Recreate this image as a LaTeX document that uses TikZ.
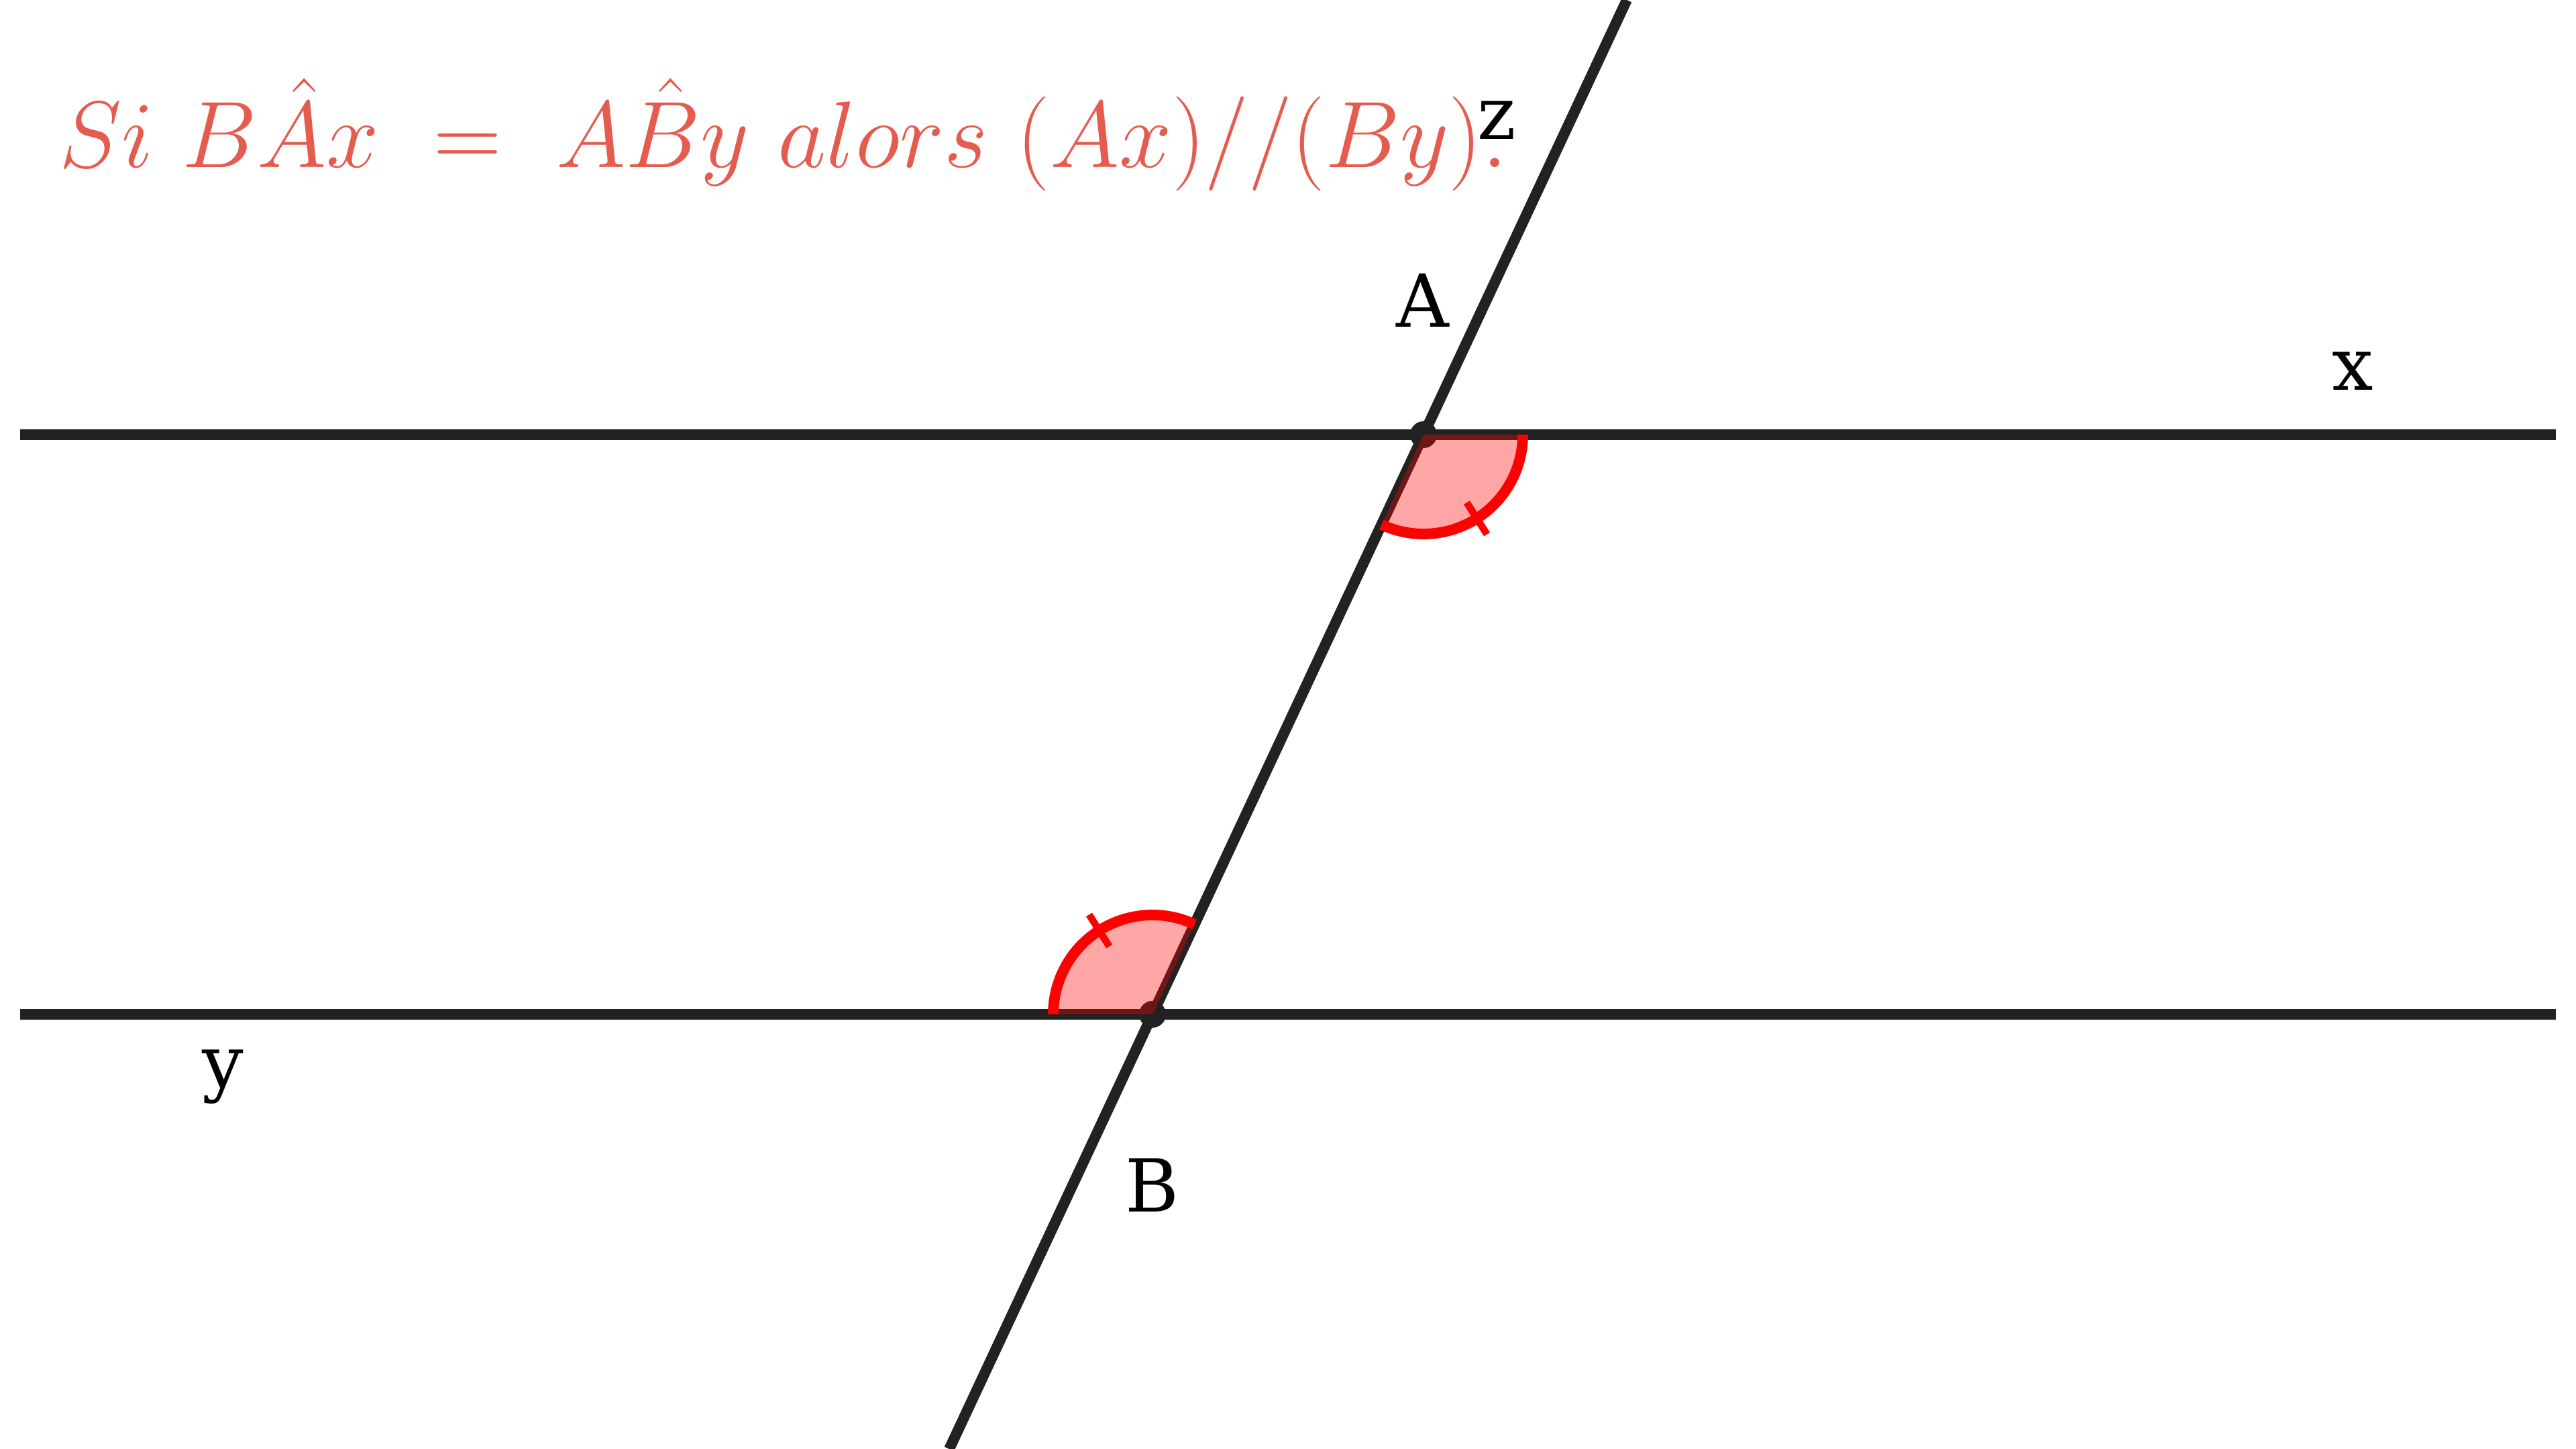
\documentclass[tikz,border=0pt]{standalone}
\usepackage{amsmath,amssymb}
\usepackage{fontspec}
\usetikzlibrary{calc}
\newfontfamily\lblfont{DejaVu Serif}
\definecolor{titlered}{RGB}{229,92,79}
\definecolor{linegray}{RGB}{34,34,34}

\begin{document}
\begin{tikzpicture}[line width=4.5pt,
  lbl/.style={font=\lblfont\fontsize{31}{37}\selectfont, inner sep=0pt},
  angfill/.style={fill=red, fill opacity=0.35},
  angarc/.style={draw=red, line width=4.5pt},
  angtick/.style={draw=red, line width=3pt}]
  \useasboundingbox (0,0) rectangle (38.4,21.6);
  \coordinate (A) at (21.22,15.12); \coordinate (B) at (17.18,6.48);
  \coordinate (xl) at (0.3,15.12); \coordinate (xr) at (38.1,15.12);
  \coordinate (yl) at (0.3,6.48); \coordinate (yr) at (38.1,6.48);
  \coordinate (zt) at (24.25,21.6); \coordinate (zb) at (14.15,0);
  % droites
  \draw[linegray] (xl) -- (xr); \draw[linegray] (yl) -- (yr); \draw[linegray] (zt) -- (zb);
  \fill[linegray] (A) circle (0.2); \fill[linegray] (B) circle (0.2);
  % angles
  \fill[angfill] (A) -- ++(0:1.48) arc[start angle=0, end angle=-115.06, radius=1.48] -- cycle;
  \draw[angarc] ($(A)+(0:1.48)$) arc[start angle=0, end angle=-115.06, radius=1.48];
  \draw[angtick] ($(A)+(-57.53:1.2)$) -- ($(A)+(-57.53:1.76)$);
  \fill[angfill] (B) -- ++(64.94:1.48) arc[start angle=64.94, end angle=180, radius=1.48] -- cycle;
  \draw[angarc] ($(B)+(64.94:1.48)$) arc[start angle=64.94, end angle=180, radius=1.48];
  \draw[angtick] ($(B)+(122.47:1.2)$) -- ($(B)+(122.47:1.76)$);
  % noms
  \node[lbl] (lA) at (21.21,17.12) {A}; \node[lbl] (lB) at (17.18,3.93) {B};
  \node[lbl] (lx) at (35.07,16.07) {x}; \node[lbl] (ly) at (3.32,5.55) {y}; \node[lbl] (lz) at (22.31,19.81) {z};
  \node[anchor=base west, inner sep=0pt, text=titlered, scale=1.61, transform shape, font=\fontsize{24.88}{30}\selectfont] (titre) at (0.76,19.1) {$Si\ B\hat{A}x\ =\ A\hat{B}y\ alors\ (Ax)//(By).$};
\end{tikzpicture}
\end{document}
